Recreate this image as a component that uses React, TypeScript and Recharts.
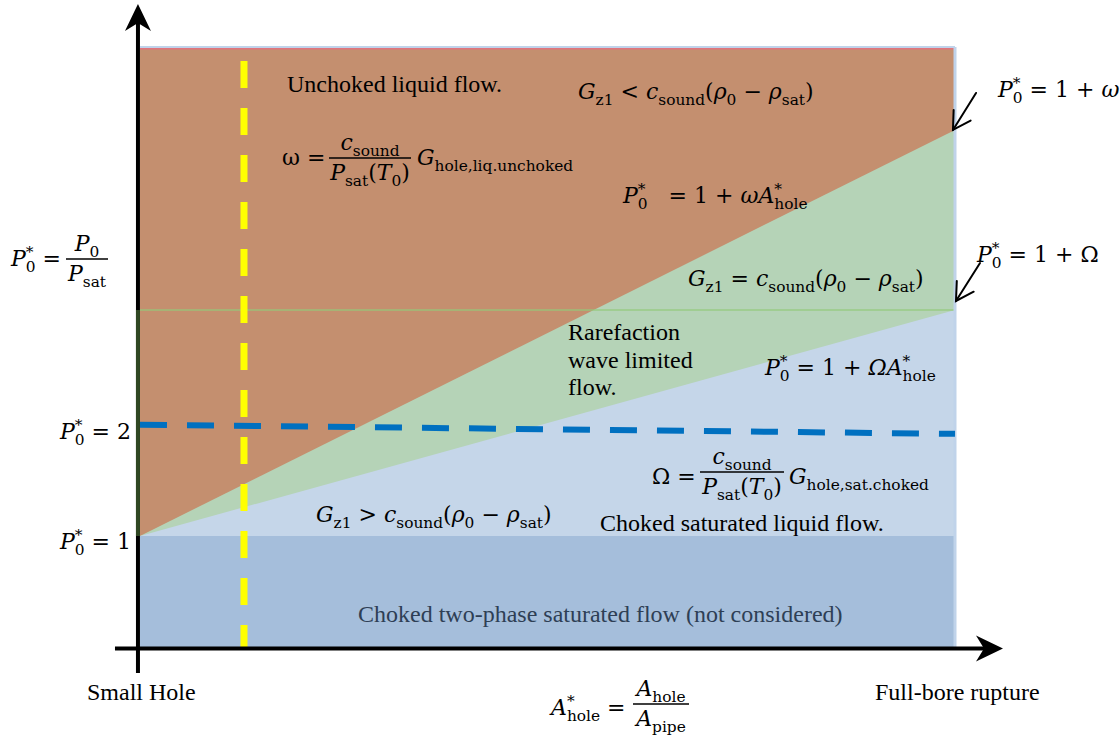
import React from 'react';
import { ComposedChart, Area, Line, XAxis, YAxis, ReferenceLine } from 'recharts';

// Normalized hole area A*_hole: small hole (0) to full-bore rupture (1)
const holeArea = [0, 1];
// P0* levels bounding each flow regime
const topLevel = [5.405, 5.405];
const omegaLine = [1, 4.658]; // P0* = 1 + ω A*hole
const bigOmegaLine = [1, 3.036]; // P0* = 1 + Ω A*hole
const twoPhaseBand = [1, 1]; // P0* = 1
const pressureTwo = [2.003, 1.92]; // dashed P0* ≈ 2 line

const yellowHole = 0.1276;
const yellowTop = 5.279;
const levelOmega = 3.036;

const data = holeArea.map((x, i) => ({
  x,
  top: topLevel[i],
  omega: omegaLine[i],
  Omega: bigOmegaLine[i],
  band: twoPhaseBand[i],
  p2: pressureTwo[i],
}));

const MATH = "'DejaVu Serif', serif";
const TEXT = "'Liberation Serif', 'Times New Roman', serif";

type Tok = { s: string; it?: boolean; sub?: string; sup?: string };

const Eq = ({ x, y, toks, fs = 22, anchor = 'start', fill = '#000' }: any) => {
  const sm = fs * 0.7;
  const parts: any[] = [];
  let shift = 0;
  const add = (content: string, size: number, it: boolean, target: number, dx?: number) => {
    parts.push(
      <tspan key={parts.length} dy={target - shift} dx={dx} fontSize={size} fontStyle={it ? 'italic' : 'normal'}>
        {content}
      </tspan>
    );
    shift = target;
  };
  toks.forEach((t: Tok) => {
    add(t.s, fs, !!t.it, 0);
    if (t.sup && t.sub) {
      add(t.sup, sm, false, -fs * 0.42);
      add(t.sub, sm, false, fs * 0.25, -sm * 0.5);
    } else if (t.sub) add(t.sub, sm, false, fs * 0.25);
    else if (t.sup) add(t.sup, sm, false, -fs * 0.42);
  });
  return (
    <text x={x} y={y} textAnchor={anchor} fontFamily={MATH} fontSize={fs} fill={fill} style={{ whiteSpace: 'pre' }}>
      {parts}
    </text>
  );
};

const Frac = ({ cx, y, w, num, den, fs = 22 }: any) => (
  <g>
    <Eq x={cx} y={y - 8} toks={num} fs={fs} anchor="middle" />
    <line x1={cx - w / 2} x2={cx + w / 2} y1={y} y2={y} stroke="#000" strokeWidth={1.6} />
    <Eq x={cx} y={y + 22} toks={den} fs={fs} anchor="middle" />
  </g>
);

const P0: Tok = { s: 'P', it: true, sup: '*', sub: '0' };
const Ahole: Tok = { s: 'A', it: true, sup: '*', sub: 'hole' };

const axisArrow = (p: any) => {
  const { x1, y1, x2, y2 } = p;
  const L = 27, H = 13, N = 8;
  const dx = x2 - x1, dy = y2 - y1;
  const len = Math.hypot(dx, dy);
  const ux = dx / len, uy = dy / len, nx = -uy, ny = ux;
  const bx = x2 - ux * L, by = y2 - uy * L;
  const mx = x2 - ux * (L - N), my = y2 - uy * (L - N);
  const pts = [[x2, y2], [bx + nx * H, by + ny * H], [mx, my], [bx - nx * H, by - ny * H]]
    .map((q) => q.join(',')).join(' ');
  return (
    <g>
      <line x1={x1} y1={y1} x2={mx} y2={my} stroke="#000" strokeWidth={4} />
      <polygon points={pts} fill="#000" />
    </g>
  );
};

const pointer = (p: any) => {
  const { x1, y1, x2, y2 } = p;
  const dx = x1 - x2, dy = y1 - y2;
  const len = Math.hypot(dx, dy);
  const ux = dx / len, uy = dy / len;
  const W = 20, a = Math.PI / 6;
  const w1 = [x2 + W * (ux * Math.cos(a) - uy * Math.sin(a)), y2 + W * (ux * Math.sin(a) + uy * Math.cos(a))];
  const w2 = [x2 + W * (ux * Math.cos(-a) - uy * Math.sin(-a)), y2 + W * (ux * Math.sin(-a) + uy * Math.cos(-a))];
  return (
    <g stroke="#000" strokeWidth={2} fill="none" strokeLinecap="round">
      <line x1={x1} y1={y1} x2={x2} y2={y2} />
      <polyline points={`${w1[0]},${w1[1]} ${x2},${y2} ${w2[0]},${w2[1]}`} />
    </g>
  );
};

const Labels = () => (
  <svg width={1120} height={742} style={{ position: 'absolute', left: 0, top: 0, pointerEvents: 'none' }}>
    <g fontFamily={TEXT} fontSize={24} fill="#000">
      <text x={287} y={92}>Unchoked liquid flow.</text>
      <text x={568} y={340}>Rarefaction</text>
      <text x={568} y={368}>wave limited</text>
      <text x={568} y={395}>flow.</text>
      <text x={600} y={531}>Choked saturated liquid flow.</text>
      <text x={358} y={622} fill="#2e3f55">Choked two-phase saturated flow (not considered)</text>
      <text x={87} y={700}>Small Hole</text>
      <text x={875} y={700}>Full-bore rupture</text>
    </g>

    <Eq x={578} y={99} toks={[{ s: 'G', it: true, sub: 'z1' }, { s: ' < ' }, { s: 'c', it: true, sub: 'sound' }, { s: '(' }, { s: 'ρ', it: true, sub: '0' }, { s: ' − ' }, { s: 'ρ', it: true, sub: 'sat' }, { s: ')' }]} />

    <Eq x={282} y={165} toks={[{ s: 'ω =' }]} />
    <Frac cx={370} y={158} w={82} num={[{ s: 'c', it: true, sub: 'sound' }]} den={[{ s: 'P', it: true, sub: 'sat' }, { s: '(' }, { s: 'T', it: true, sub: '0' }, { s: ')' }]} />
    <Eq x={417} y={165} toks={[{ s: 'G', it: true, sub: 'hole,liq.unchoked' }]} />

    <Eq x={623} y={203} toks={[P0, { s: '   = 1 + ' }, { s: 'ω', it: true }, Ahole]} />

    <Eq x={688} y={286} toks={[{ s: 'G', it: true, sub: 'z1' }, { s: ' = ' }, { s: 'c', it: true, sub: 'sound' }, { s: '(' }, { s: 'ρ', it: true, sub: '0' }, { s: ' − ' }, { s: 'ρ', it: true, sub: 'sat' }, { s: ')' }]} />

    <Eq x={765} y={375} toks={[P0, { s: ' = 1 + ' }, { s: 'Ω', it: true }, Ahole]} />

    <Eq x={652} y={484} toks={[{ s: 'Ω =' }]} />
    <Frac cx={742} y={472} w={84} num={[{ s: 'c', it: true, sub: 'sound' }]} den={[{ s: 'P', it: true, sub: 'sat' }, { s: '(' }, { s: 'T', it: true, sub: '0' }, { s: ')' }]} />
    <Eq x={789} y={484} toks={[{ s: 'G', it: true, sub: 'hole,sat.choked' }]} />

    <Eq x={316} y={522} toks={[{ s: 'G', it: true, sub: 'z1' }, { s: ' > ' }, { s: 'c', it: true, sub: 'sound' }, { s: '(' }, { s: 'ρ', it: true, sub: '0' }, { s: ' − ' }, { s: 'ρ', it: true, sub: 'sat' }, { s: ')' }]} />

    <Eq x={11} y={266} toks={[P0, { s: ' =' }]} />
    <Frac cx={87} y={259} w={42} num={[{ s: 'P', it: true, sub: '0' }]} den={[{ s: 'P', it: true, sub: 'sat' }]} />

    <Eq x={131} y={439} anchor="end" toks={[P0, { s: ' = 2' }]} />
    <Eq x={131} y={549} anchor="end" toks={[P0, { s: ' = 1' }]} />

    <Eq x={998} y={97} toks={[P0, { s: ' = 1 + ' }, { s: 'ω', it: true }]} />
    <Eq x={977} y={262} toks={[P0, { s: ' = 1 + Ω' }]} />

    <Eq x={551} y={715} toks={[Ahole, { s: ' =' }]} />
    <Frac cx={661} y={704} w={56} num={[{ s: 'A', it: true, sub: 'hole' }]} den={[{ s: 'A', it: true, sub: 'pipe' }]} />
  </svg>
);

export default function App() {
  return (
    <div style={{ position: 'absolute', left: 0, top: 0, width: 1120, height: 742, background: '#fff' }}>
      <ComposedChart width={1120} height={742} data={data} margin={{ top: 47, right: 165, bottom: 95, left: 140 }}>
        <XAxis dataKey="x" type="number" domain={[0, 1]} hide />
        <YAxis type="number" domain={[0, 5.405]} hide allowDataOverflow />
        <Area dataKey="top" type="linear" baseValue={0} fill="#c48f6f" fillOpacity={1} stroke="none" isAnimationActive={false} />
        <Area dataKey="omega" type="linear" baseValue={0} fill="#b5d3b7" fillOpacity={1} stroke="none" isAnimationActive={false} />
        <Area dataKey="Omega" type="linear" baseValue={0} fill="#c5d6e9" fillOpacity={1} stroke="none" isAnimationActive={false} />
        <Area dataKey="band" type="linear" baseValue={0} fill="#a5bedb" fillOpacity={1} stroke="none" isAnimationActive={false} />
        <ReferenceLine y={levelOmega} stroke="#92c97a" strokeOpacity={0.6} strokeWidth={2} />
        <ReferenceLine y={5.405} stroke="#c0d3ea" strokeWidth={2} />
        <ReferenceLine y={5.39} stroke="#e0747e" strokeWidth={1.5} />
        <ReferenceLine x={1} stroke="#c0d3ea" strokeWidth={3} />
        <ReferenceLine segment={[{ x: yellowHole, y: yellowTop }, { x: yellowHole, y: 0 }]} stroke="#ffff00" strokeWidth={7} strokeDasharray="27 20" ifOverflow="visible" />
        <Line dataKey="p2" type="linear" stroke="#0070c0" strokeWidth={6} strokeDasharray="27 20" dot={false} activeDot={false} isAnimationActive={false} />
        <ReferenceLine segment={[{ x: -0.0025, y: -0.234 }, { x: -0.0025, y: 5.793 }]} ifOverflow="visible" shape={axisArrow} />
        <ReferenceLine segment={[{ x: -0.0307, y: -0.0135 }, { x: 1.0589, y: -0.0135 }]} ifOverflow="visible" shape={axisArrow} />
        <ReferenceLine segment={[{ x: -0.0025, y: 1 }, { x: -0.0025, y: levelOmega }]} stroke="#2f4722" strokeWidth={4} ifOverflow="visible" />
        <ReferenceLine segment={[{ x: 1.0258, y: 4.991 }, { x: 0.9975, y: 4.658 }]} ifOverflow="visible" shape={pointer} />
        <ReferenceLine segment={[{ x: 1.0307, y: 3.459 }, { x: 1.0012, y: 3.117 }]} ifOverflow="visible" shape={pointer} />
      </ComposedChart>
      <Labels />
    </div>
  );
}
